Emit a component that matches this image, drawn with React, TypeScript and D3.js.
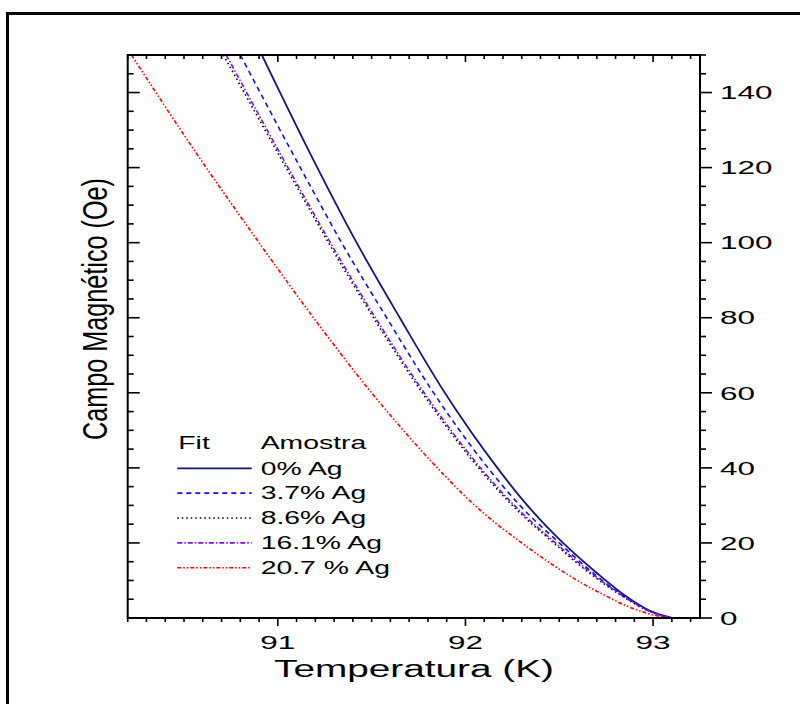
import React from "react";
import * as d3 from "d3";

// Series data: temperature (K) at given field levels (Oe)
const fields0 = [150, 125, 100, 80, 60, 40, 30, 20, 12, 6, 2, 0];
const temps0 = [90.915, 91.16, 91.42, 91.65, 91.89, 92.17, 92.33, 92.52, 92.7, 92.85, 92.98, 93.105];

const fields37 = [150, 120, 100, 80, 60, 40, 30, 20, 12, 6, 2, 0];
const temps37 = [90.8, 91.12, 91.34, 91.58, 91.83, 92.12, 92.29, 92.5, 92.68, 92.84, 92.975, 93.1];

const fields86 = [150, 115, 100, 80, 60, 40, 30, 20, 12, 6, 2, 0];
const temps86 = [90.71, 91.1, 91.27, 91.51, 91.77, 92.07, 92.25, 92.47, 92.66, 92.83, 92.97, 93.1];

const fields161 = [150, 115, 100, 80, 60, 40, 30, 20, 12, 6, 2, 0];
const temps161 = [90.725, 91.11, 91.28, 91.52, 91.78, 92.08, 92.26, 92.48, 92.67, 92.835, 92.972, 93.1];

const fields207 = [150, 125, 100, 80, 60, 40, 30, 20, 14, 9.6, 6.1, 3.2, 1.3, 0];
const temps207 = [90.22, 90.55, 90.9, 91.19, 91.5, 91.85, 92.05, 92.3, 92.47, 92.61, 92.74, 92.86, 92.965, 93.08];

const seriesLabels = ["0% Ag", "3.7% Ag", "8.6% Ag", "16.1% Ag", "20.7 % Ag"];
const xTickLabels = [91, 92, 93];
const yTickLabels = [0, 20, 40, 60, 80, 100, 120, 140];

const FONT = "'Liberation Sans', Arial, Helvetica, sans-serif";

export default function App() {
  const W = 800, H = 704;
  const left = 127.7, right = 700, top = 55, bottom = 618;
  const x = d3.scaleLinear().domain([90.2, 93.25]).range([left, right]);
  const y = d3.scaleLinear().domain([0, 150]).range([bottom, top]);

  const styles = [
    { color: "#15157f", dash: null, w: 1.8 },
    { color: "#1010ff", dash: "5,4", w: 1.6 },
    { color: "#000000", dash: "1.5,3", w: 1.6 },
    { color: "#7a10f0", dash: "5,2,1.5,2", w: 1.6 },
    { color: "#ff0000", dash: "4,2,1.5,2,1.5,2", w: 1.6 },
  ];
  const series = [
    { t: temps0, f: fields0 },
    { t: temps37, f: fields37 },
    { t: temps86, f: fields86 },
    { t: temps161, f: fields161 },
    { t: temps207, f: fields207 },
  ];

  const line = d3
    .line<[number, number]>()
    .x((d) => x(d[0]))
    .y((d) => y(d[1]))
    .curve(d3.curveMonotoneX);

  const xMinor = d3.range(0, 31).map((i) => +(90.2 + i * 0.1).toFixed(2));
  const yMinor = d3.range(0, 31).map((i) => i * 5);

  return (
    <svg
      width={W}
      height={H}
      style={{ position: "absolute", left: 0, top: 0, background: "#fff" }}
      fontFamily={FONT}
    >
      <rect x={0} y={0} width={W} height={H} fill="#fff" />
      {/* outer frame */}
      <rect x={7.5} y={13.5} width={820} height={720} fill="none" stroke="#000" strokeWidth={3} />

      <defs>
        <clipPath id="plotclip">
          <rect x={left} y={top} width={right - left} height={bottom - top} />
        </clipPath>
      </defs>

      {/* curves */}
      <g clipPath="url(#plotclip)">
        {series.map((s, i) => {
          const pts: [number, number][] = s.t.map((t, k) => [t, s.f[k]] as [number, number]);
          return (
            <path
              key={i}
              d={line(pts) || ""}
              fill="none"
              stroke={styles[i].color}
              strokeWidth={styles[i].w}
              strokeDasharray={styles[i].dash || undefined}
            />
          );
        })}
      </g>

      {/* x ticks: bottom outward, top inward */}
      {xMinor.map((v, i) => {
        const major = Math.abs(v - Math.round(v)) < 1e-6;
        const px = x(v);
        return (
          <g key={"xt" + i} stroke="#000" strokeWidth={1.6}>
            <line x1={px} x2={px} y1={bottom} y2={bottom + (major ? 8 : 4)} />
            <line x1={px} x2={px} y1={top} y2={top + (major ? 7 : 4)} />
          </g>
        );
      })}
      {/* y ticks: left inward, right outward */}
      {yMinor.map((v, i) => {
        const major = v % 20 === 0;
        const py = y(v);
        return (
          <g key={"yt" + i} stroke="#000" strokeWidth={1.6}>
            <line x1={left} x2={left + (major ? 12 : 6)} y1={py} y2={py} />
            <line x1={right} x2={right + (major ? 12 : 6)} y1={py} y2={py} />
          </g>
        );
      })}

      {/* axis frame */}
      <rect x={left} y={top} width={right - left} height={bottom - top} fill="none" stroke="#000" strokeWidth={2} />

      {/* bottom tick labels */}
      {xTickLabels.map((v) => (
        <text
          key={"xl" + v}
          transform={`translate(${x(v)},${649}) scale(1.7,1)`}
          textAnchor="middle"
          fontSize={18.5}
          fill="#000"
        >
          {v}
        </text>
      ))}
      {/* right tick labels */}
      {yTickLabels.map((v) => (
        <text
          key={"yl" + v}
          transform={`translate(${720},${y(v) + 6.7}) scale(1.7,1)`}
          textAnchor="start"
          fontSize={18.5}
          fill="#000"
        >
          {v}
        </text>
      ))}

      {/* axis titles */}
      <text
        x={414}
        y={677}
        textAnchor="middle"
        fontSize={23}
        textLength={280}
        lengthAdjust="spacingAndGlyphs"
        fill="#000"
      >
        Temperatura (K)
      </text>
      <text
        transform={`translate(106.5,309) rotate(-90) scale(1,1.45)`}
        textAnchor="middle"
        fontSize={24}
        textLength={262}
        lengthAdjust="spacingAndGlyphs"
        fill="#000"
      >
        Campo Magnético (Oe)
      </text>

      {/* legend */}
      <text transform={`translate(178.3,449.3) scale(1.62,1)`} fontSize={17.5} fill="#000">
        Fit
      </text>
      <text transform={`translate(260.7,449.3) scale(1.62,1)`} fontSize={17.5} fill="#000">
        Amostra
      </text>
      {seriesLabels.map((lab, i) => {
        const ly = 468.3 + i * 24.85;
        return (
          <g key={"lg" + i}>
            <line
              x1={177.3}
              x2={251.7}
              y1={ly}
              y2={ly}
              stroke={styles[i].color}
              strokeWidth={styles[i].w}
              strokeDasharray={styles[i].dash || undefined}
            />
            <text transform={`translate(260.7,${ly + 6.2}) scale(1.62,1)`} fontSize={17.5} fill="#000">
              {lab}
            </text>
          </g>
        );
      })}
    </svg>
  );
}
